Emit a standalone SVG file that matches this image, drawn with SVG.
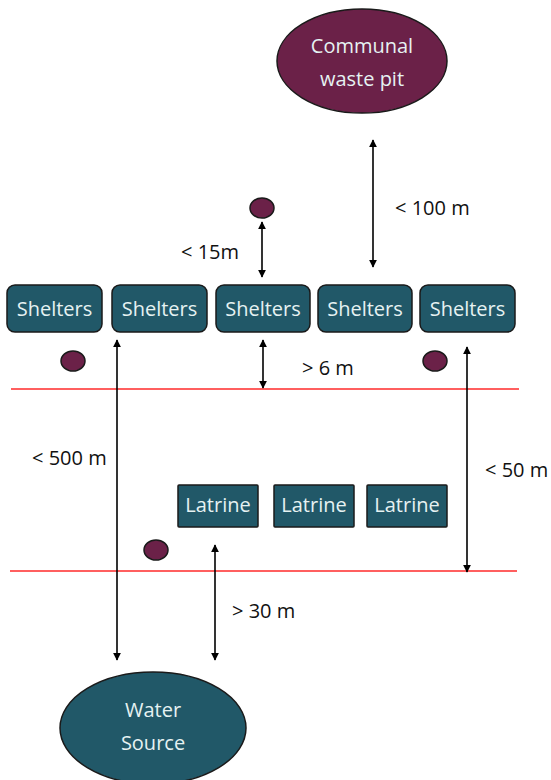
<svg xmlns="http://www.w3.org/2000/svg" width="551" height="780" viewBox="0 0 551 780">
  <defs>
    <marker id="arrow" viewBox="0 0 10 10" refX="9" refY="5" markerWidth="8" markerHeight="8" markerUnits="userSpaceOnUse" orient="auto-start-reverse">
      <path d="M0,0 L10,5 L0,10 z" fill="#000"/>
    </marker>
  </defs>
  <style>
    .teal { fill: #215868; stroke: #1a1a1a; stroke-width: 1.5; }
    .plum { fill: #6b2148; stroke: #1a1a1a; stroke-width: 1.5; }
    .node-text { font-family: "Open Sans", "DejaVu Sans", sans-serif; font-size: 20px; fill: #e6f2f2; text-anchor: middle; }
    .label { font-family: "Open Sans", "DejaVu Sans", sans-serif; font-size: 20px; fill: #111; }
    .arrow { stroke: #000; stroke-width: 1.6; fill: none; marker-start: url(#arrow); marker-end: url(#arrow); }
    .boundary { stroke: #ff2a2a; stroke-width: 1.3; }
  </style>

  <!-- boundary lines -->
  <line class="boundary" x1="11" y1="389" x2="519" y2="389"/>
  <line class="boundary" x1="10" y1="571" x2="517" y2="571"/>

  <g id="waste-pit">
    <ellipse class="plum" cx="362" cy="61" rx="85" ry="52"/>
    <text class="node-text" x="362" y="53">Communal</text>
    <text class="node-text" x="362" y="86">waste pit</text>
  </g>

  <g id="bin-top"><ellipse class="plum" cx="262" cy="208" rx="12" ry="10"/></g>
  <g id="bin-left"><ellipse class="plum" cx="73" cy="361" rx="12" ry="10"/></g>
  <g id="bin-right"><ellipse class="plum" cx="435" cy="361" rx="12" ry="10"/></g>
  <g id="bin-bottom"><ellipse class="plum" cx="156" cy="550" rx="12" ry="10"/></g>

  <g id="shelter-1">
    <rect class="teal" x="7" y="285" width="95" height="47" rx="8"/>
    <text class="node-text" x="54.5" y="316">Shelters</text>
  </g>
  <g id="shelter-2">
    <rect class="teal" x="112" y="285" width="95" height="47" rx="8"/>
    <text class="node-text" x="159.5" y="316">Shelters</text>
  </g>
  <g id="shelter-3">
    <rect class="teal" x="216" y="285" width="94" height="47" rx="8"/>
    <text class="node-text" x="263" y="316">Shelters</text>
  </g>
  <g id="shelter-4">
    <rect class="teal" x="318" y="285" width="94" height="47" rx="8"/>
    <text class="node-text" x="365" y="316">Shelters</text>
  </g>
  <g id="shelter-5">
    <rect class="teal" x="420" y="285" width="95" height="47" rx="8"/>
    <text class="node-text" x="467.5" y="316">Shelters</text>
  </g>

  <g id="latrine-1">
    <rect class="teal" x="178" y="485" width="80" height="42" rx="1"/>
    <text class="node-text" x="218" y="512">Latrine</text>
  </g>
  <g id="latrine-2">
    <rect class="teal" x="274" y="485" width="80" height="42" rx="1"/>
    <text class="node-text" x="314" y="512">Latrine</text>
  </g>
  <g id="latrine-3">
    <rect class="teal" x="367" y="485" width="80" height="42" rx="1"/>
    <text class="node-text" x="407" y="512">Latrine</text>
  </g>

  <g id="water-source">
    <ellipse class="teal" cx="153" cy="728" rx="93" ry="56"/>
    <text class="node-text" x="153" y="717">Water</text>
    <text class="node-text" x="153" y="750">Source</text>
  </g>

  <g id="connectors">
    <line class="arrow" x1="373" y1="140" x2="373" y2="267"/>
    <line class="arrow" x1="262" y1="222" x2="262" y2="277"/>
    <line class="arrow" x1="263" y1="340" x2="263" y2="388"/>
    <line class="arrow" x1="117" y1="340" x2="117" y2="660"/>
    <line class="arrow" x1="467" y1="347" x2="467" y2="572"/>
    <line class="arrow" x1="215" y1="545" x2="215" y2="660"/>
  </g>

  <g id="labels">
    <text class="label" x="395" y="215">&lt; 100 m</text>
    <text class="label" x="181" y="259">&lt; 15m</text>
    <text class="label" x="302" y="375">&gt; 6 m</text>
    <text class="label" x="32" y="465">&lt; 500 m</text>
    <text class="label" x="485" y="477">&lt; 50 m</text>
    <text class="label" x="232" y="618">&gt; 30 m</text>
  </g>
</svg>
